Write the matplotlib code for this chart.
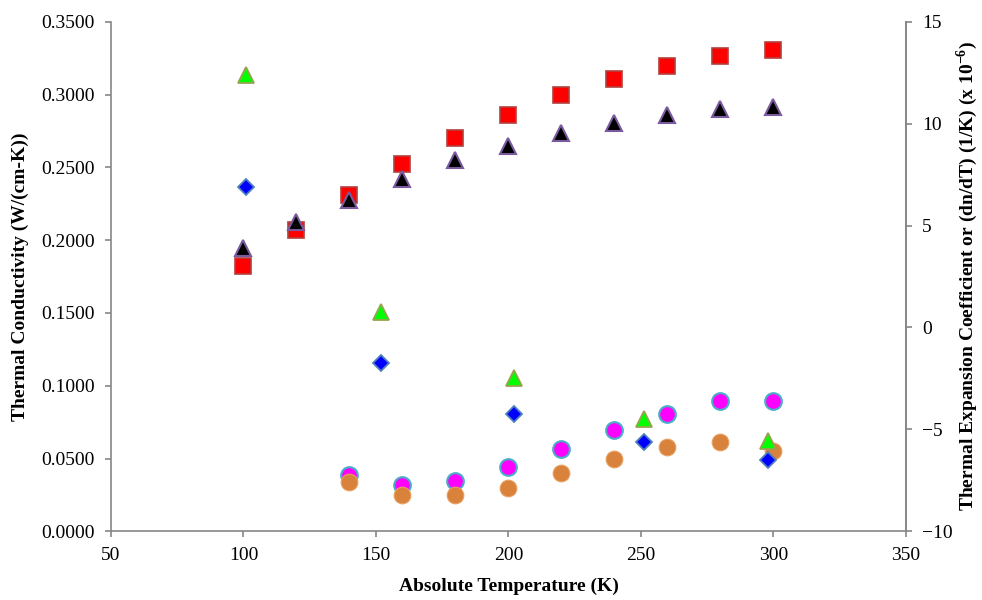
import matplotlib.pyplot as plt
from matplotlib.ticker import FormatStrFormatter, MultipleLocator

plt.rcParams['font.family'] = ['Liberation Serif', 'DejaVu Serif']
plt.rcParams['mathtext.fontset'] = 'custom'
plt.rcParams['mathtext.rm'] = 'Liberation Serif'
plt.rcParams['mathtext.bf'] = 'Liberation Serif:bold'

# Thermal conductivity (left axis)
temp = [100, 120, 140, 160, 180, 200, 220, 240, 260, 280, 300]
k_red = [0.1820, 0.2071, 0.2307, 0.2520, 0.2703, 0.2857, 0.2999, 0.3110, 0.3194, 0.3263, 0.3304]

temp_c = [140, 160, 180, 200, 220, 240, 260, 280, 300]
k_magenta = [0.0387, 0.0319, 0.0346, 0.0444, 0.0568, 0.0695, 0.0805, 0.0892, 0.0892]
k_orange = [0.0341, 0.0250, 0.0250, 0.0300, 0.0399, 0.0500, 0.0582, 0.0610, 0.0552]

# Thermal expansion coefficient / dn/dT (right axis, x 10^-6)
alpha_black = [3.89, 5.19, 6.27, 7.29, 8.20, 8.91, 9.52, 10.01, 10.40, 10.71, 10.80]

temp_n = [101, 152, 202, 251, 298]
dn_green = [12.37, 0.75, -2.48, -4.48, -5.56]
dn_blue = [6.89, -1.76, -4.25, -5.62, -6.49]

fig, ax = plt.subplots(figsize=(9.82, 6.0), dpi=100)
fig.subplots_adjust(left=0.113, right=0.9226, top=0.9638, bottom=0.1145)
ax2 = ax.twinx()

# Linke Achse: Wärmeleitfähigkeit
ax.plot(temp, k_red, 's', ms=11.5, color='#ff0000', mec='#b0413e', mew=1.2, zorder=3)
ax.plot(temp_c, k_magenta, 'o', ms=12, color='#ff00ff', mec='#4bacc6', mew=1.5, zorder=3)
ax.plot(temp_c, k_orange, 'o', ms=12, color='#d9823b', mec='#e8a060', mew=0.8, zorder=3)

# Rechte Achse: Ausdehnungskoeffizient und dn/dT
ax2.plot(temp, alpha_black, '^', ms=11.5, color='#000000', mec='#7a5a9e', mew=1.5, zorder=3)
ax2.plot(temp_n, dn_green, '^', ms=11.5, color='#00ff00', mec='#98a350', mew=1.3, zorder=3)
ax2.plot(temp_n, dn_blue, 'D', ms=8.3, color='#0000ff', mec='#4f81bd', mew=1.3, zorder=3)

ax.set_xlim(50, 350)
ax.set_ylim(0, 0.35)
ax2.set_ylim(-10, 15)
ax.xaxis.set_major_locator(MultipleLocator(50))
ax.yaxis.set_major_locator(MultipleLocator(0.05))
ax.yaxis.set_major_formatter(FormatStrFormatter('%.4f'))
ax2.yaxis.set_major_locator(MultipleLocator(5))

gray = '#868686'
for a in (ax, ax2):
    a.spines['top'].set_visible(False)
    for s in ('left', 'right', 'bottom'):
        a.spines[s].set_color(gray)
        a.spines[s].set_linewidth(1.2)
    a.tick_params(axis='both', direction='out', length=4.5, width=1.2, color=gray,
                  labelsize=14, labelcolor='black', pad=7)
ax2.spines['left'].set_visible(False)
ax2.spines['bottom'].set_visible(False)

ax.set_xlabel('Absolute Temperature (K)', fontsize=14, fontweight='bold', labelpad=10)
ax.set_ylabel('Thermal Conductivity (W/(cm-K))', fontsize=14, fontweight='bold', labelpad=9)
ax2.set_ylabel(r'Thermal Expansion Coefficient or (dn/dT) (1/K) (x 10$^{\mathbf{-6}}$)',
               fontsize=14, fontweight='bold', labelpad=1)

fig.savefig('out.png', dpi=100)
